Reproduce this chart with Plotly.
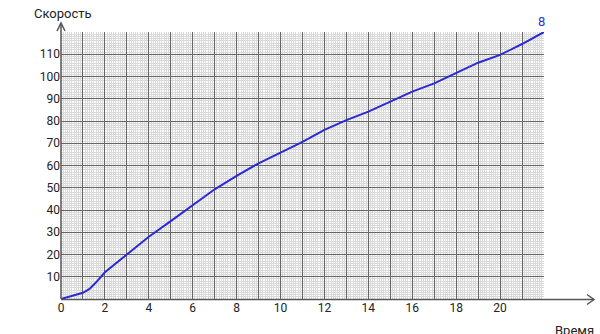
import plotly.graph_objects as go

# data
time_vals = [0, 0.5, 1, 1.3, 1.6, 2, 3, 4, 5, 6, 7, 8, 9, 10, 11, 12, 13, 14, 15, 16, 17, 18, 19, 20, 21, 22]
speed_vals = [0, 1.3, 2.8, 4.5, 7.5, 12, 19.8, 28, 35, 42.2, 49.3, 55.3, 61, 65.8, 70.6, 76, 80.4, 84.2, 88.7, 93.2, 96.9, 101.7, 106.2, 109.7, 114.6, 120]
x_tickvals = list(range(0, 23))
x_ticktext = [str(v) if v % 2 == 0 and v <= 20 else "" for v in x_tickvals]
y_tickvals = list(range(0, 121, 10))
y_ticktext = [str(v) if 0 < v < 120 else "" for v in y_tickvals]
end_label = "8"

W, H = 600, 334
L, R, T, B = 61, 56, 32, 35
pw, ph = W - L - R, H - T - B

def px(xp):
    return (xp - L) / pw

def py(yp):
    return (H - B - yp) / ph

fig = go.Figure()
fig.add_trace(go.Scatter(x=time_vals, y=speed_vals, mode="lines",
                         line=dict(color="#2b2bd0", width=2), hoverinfo="skip"))

fig.add_annotation(x=time_vals[-1], y=speed_vals[-1], xref="x", yref="y", text=end_label,
                   showarrow=False, yanchor="bottom", yshift=1, xshift=-3,
                   font=dict(family="Roboto", size=13, color="#3030d0"))

axis_col = "#555555"
shapes = [
    # y axis
    dict(type="line", xref="paper", yref="paper", x0=0, y0=0, x1=0, y1=py(23),
         line=dict(color=axis_col, width=1.5)),
    dict(type="path", xref="paper", yref="paper",
         path=f"M {px(57)} {py(31)} L {px(61)} {py(23)} L {px(65)} {py(31)}",
         line=dict(color=axis_col, width=1.5)),
    # x axis
    dict(type="line", xref="paper", yref="paper", x0=0, y0=py(299.5), x1=px(594), y1=py(299.5),
         line=dict(color=axis_col, width=1.5)),
    dict(type="path", xref="paper", yref="paper",
         path=f"M {px(587)} {py(294.5)} L {px(594)} {py(299.5)} L {px(587)} {py(304.5)}",
         line=dict(color=axis_col, width=1.5)),
]

fig.add_annotation(xref="paper", yref="paper", x=px(32), y=py(13), text="Скорость",
                   showarrow=False, xanchor="left", yanchor="middle",
                   font=dict(family="Roboto", size=13, color="#222222"))
fig.add_annotation(xref="paper", yref="paper", x=px(553), y=py(330), text="Время",
                   showarrow=False, xanchor="left", yanchor="middle",
                   font=dict(family="Roboto", size=13, color="#222222"))

fig.update_layout(
    width=W, height=H,
    margin=dict(l=L, r=R, t=T, b=B, pad=0),
    paper_bgcolor="white", plot_bgcolor="white",
    showlegend=False,
    shapes=shapes,
    font=dict(family="Roboto", size=12, color="#222222"),
    xaxis=dict(range=[0, 22], tickmode="array", tickvals=x_tickvals, ticktext=x_ticktext,
               showgrid=True, gridcolor="#666666", gridwidth=1.3, zeroline=False,
               showline=False, ticks="", fixedrange=True,
               minor=dict(dtick=0.1, showgrid=True, gridcolor="#dadada", gridwidth=0.5)),
    yaxis=dict(range=[0, 120], tickmode="array", tickvals=y_tickvals, ticktext=y_ticktext,
               showgrid=True, gridcolor="#666666", gridwidth=1.3, zeroline=False,
               showline=False, ticks="", fixedrange=True,
               minor=dict(dtick=1, showgrid=True, gridcolor="#dadada", gridwidth=0.5)),
)

fig.write_html("out.html", config={"displayModeBar": False})
